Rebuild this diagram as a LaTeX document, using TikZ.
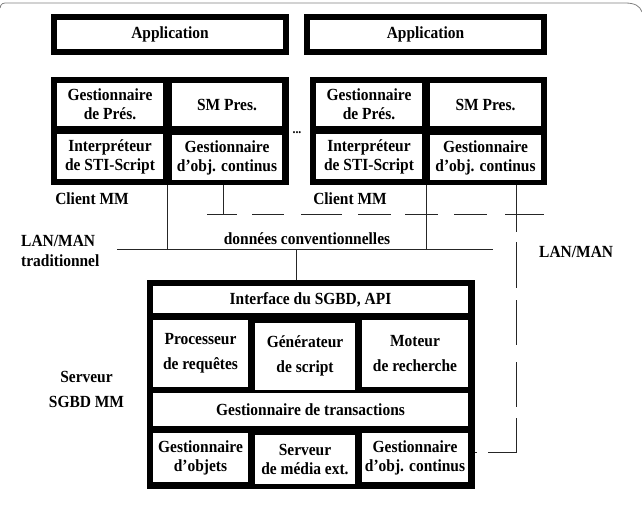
\documentclass[tikz,border=0pt]{standalone}
\usepackage{fontspec}
\setmainfont{Liberation Serif}[FakeStretch=0.91]
\tikzset{
  frame/.style={fill=black, inner sep=0pt, outer sep=0pt},
  cell/.style={fill=white, inner sep=0pt, outer sep=0pt, align=center,
    font=\bfseries\fontsize{17}{19}\selectfont},
  lbl/.style={inner sep=0pt, align=left, font=\bfseries\fontsize{17}{19}\selectfont},
  wire/.style={line width=0.9pt, draw=black!85},
}
\begin{document}
\begin{tikzpicture}[x=1pt,y=-1pt]
\useasboundingbox (0,0) rectangle (642,532);
% page frame remnant
\draw[gray, line width=0.8pt] (0,8) .. controls (1,3) and (3,3) .. (8,3) -- (625,3)
  .. controls (635,3) and (640,6) .. (642,12);

% Applications
\node[frame, minimum width=238pt, minimum height=41pt] (appLf) at (170,34.5) {};
\node[cell, minimum width=226pt, minimum height=29pt] (appL) at (170,34.5) {Application};
\node[frame, minimum width=243pt, minimum height=41pt] (appRf) at (425.5,34.5) {};
\node[cell, minimum width=231pt, minimum height=29pt] (appR) at (425.5,34.5) {Application};

% Client left
\node[frame, minimum width=238pt, minimum height=108pt] (clL) at (170,131) {};
\node[cell, minimum width=106pt, minimum height=43pt] (gpL) at (110,104.5) {Gestionnaire\\de Prés.};
\node[cell, minimum width=110pt, minimum height=43pt] (smL) at (227,104.5) {SM Pres.};
\node[cell, minimum width=106pt, minimum height=45pt] (isL) at (110,156.5) {Interpréteur\\de STI-Script};
\node[cell, minimum width=110pt, minimum height=45pt] (goL) at (227,157.5) {Gestionnaire\\d'obj. continus};

% Client right
\node[frame, minimum width=237pt, minimum height=108pt] (clR) at (428.5,131) {};
\node[cell, minimum width=106pt, minimum height=43pt] (gpR) at (369,104.5) {Gestionnaire\\de Prés.};
\node[cell, minimum width=111pt, minimum height=43pt] (smR) at (485.5,104.5) {SM Pres.};
\node[cell, minimum width=106pt, minimum height=45pt] (isR) at (369,156.5) {Interpréteur\\de STI-Script};
\node[cell, minimum width=111pt, minimum height=45pt] (goR) at (485.5,157.5) {Gestionnaire\\d'obj. continus};

\node[lbl, font=\bfseries\fontsize{13}{14}\selectfont] (dots) at (297,133) {...};

\node[lbl] (cmL) at (92,199) {Client MM};
\node[lbl] (cmR) at (350,199) {Client MM};

% Server
\node[frame, minimum width=328pt, minimum height=209pt] (srv) at (311,384.5) {};
\node[cell, minimum width=315pt, minimum height=27pt] (api) at (310.5,299.5) {Interface du SGBD, API};
\node[cell, minimum width=95pt, minimum height=67pt, font=\bfseries\fontsize{17}{25}\selectfont] (proc) at (200.5,353.5) {Processeur\\de requêtes};
\node[cell, minimum width=100pt, minimum height=67pt, font=\bfseries\fontsize{17}{25}\selectfont] (gen) at (305,356) {Générateur\\de script};
\node[cell, minimum width=106pt, minimum height=67pt, font=\bfseries\fontsize{17}{25}\selectfont] (mot) at (415,353.5) {Moteur\\de recherche};
\node[cell, minimum width=315pt, minimum height=33pt] (trans) at (310.5,409.5) {Gestionnaire de transactions};
\node[cell, minimum width=95pt, minimum height=49pt] (gobj) at (200.5,457.5) {Gestionnaire\\d'objets};
\node[cell, minimum width=100pt, minimum height=49pt] (smed) at (305,459) {Serveur\\de média ext.};
\node[cell, minimum width=106pt, minimum height=49pt] (gcont) at (415,457.5) {Gestionnaire\\d'obj. continus};

% labels
\node[lbl, anchor=west, font=\bfseries\fontsize{17}{20}\selectfont] (lanT) at (21,251) {LAN/MAN\\traditionnel};
\node[lbl, anchor=west] (lanM) at (539,252) {LAN/MAN};
\node[lbl] (donc) at (307,239) {données conventionnelles};
\node[lbl, align=center, font=\bfseries\fontsize{17}{25}\selectfont] (srvlbl) at (86.5,389.5) {Serveur\\SGBD MM};

% network wires
\coordinate (lanA) at (117,249);
\coordinate (lanB) at (493,249);
\coordinate (lanTap) at (296,249);
\coordinate (mmA) at (207,214);
\coordinate (mmB) at (544,214);
\coordinate (t1) at (167,185);
\coordinate (t2) at (223,185);
\coordinate (t3) at (426,185);
\coordinate (t4) at (516,185);
\coordinate (t4b) at (516,232);
\coordinate (t4c) at (516,242);
\coordinate (t4d) at (516,452);
\coordinate (sE) at (475,452);

\draw[wire] (lanA) -- (lanB);
\draw[wire] (t1) -- (t1 |- lanA);
\draw[wire] (t2) -- (t2 |- mmA);
\draw[wire] (t3) -- (t3 |- lanA);
\draw[wire] (t4) -- (t4b);
\draw[wire] (lanTap) -- (lanTap |- srv.north);
\draw[wire, dash pattern=on 30pt off 15pt on 32pt off 17pt on 41pt off 16pt on 33pt off 14pt on 33pt off 16pt on 33pt off 18pt on 39pt off 20pt] (mmA) -- (mmB);
\draw[wire, dash pattern=on 46pt off 12pt on 45pt off 17pt on 45pt off 11pt on 62pt off 11pt on 3pt off 50pt] (t4c) -- (t4d) -- (sE);
\end{tikzpicture}
\end{document}
